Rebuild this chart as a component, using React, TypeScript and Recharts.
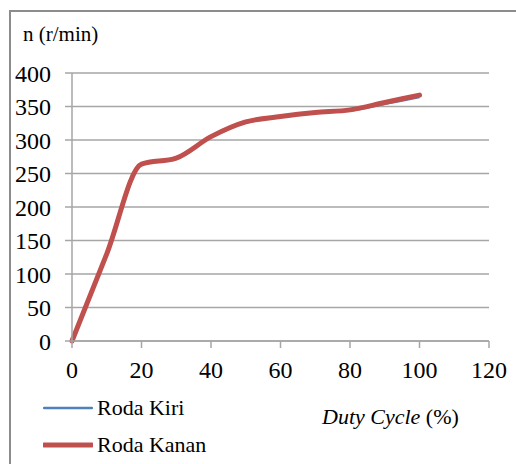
import { LineChart, Line, XAxis, YAxis, CartesianGrid, Legend } from 'recharts'

const dutyCycle = [0, 10, 20, 30, 40, 50, 60, 70, 80, 90, 100]
const rodaKiri = [0, 130, 264, 273, 304, 326, 335, 341, 344, 354, 364]
const rodaKanan = [0, 130, 264, 273, 305, 327, 335, 341, 345, 356, 367]
const xTicks = [0, 20, 40, 60, 80, 100, 120]
const yTicks = [0, 50, 100, 150, 200, 250, 300, 350, 400]

const data = dutyCycle.map((d, i) => ({ duty: d, kiri: rodaKiri[i], kanan: rodaKanan[i] }))

const FONT = '"Liberation Serif", "Times New Roman", serif'
const GRID = '#a6a6a6'

function LegendBox() {
  const rows = [
    { name: 'Roda Kiri', color: '#4f81bd', width: 2.5 },
    { name: 'Roda Kanan', color: '#c0504d', width: 5 },
  ]
  return (
    <div style={{ fontFamily: FONT, fontSize: 22, color: '#000' }}>
      {rows.map((r) => (
        <div key={r.name} style={{ display: 'flex', alignItems: 'center', height: 37 }}>
          <svg width={50} height={10} style={{ marginRight: 4 }}>
            <line x1={1} y1={5} x2={49} y2={5} stroke={r.color} strokeWidth={r.width} strokeLinecap="round" />
          </svg>
          <span>{r.name}</span>
        </div>
      ))}
    </div>
  )
}

export default function App() {
  return (
    <div style={{ position: 'absolute', left: 0, top: 0, width: 516, height: 464, background: '#fff', overflow: 'hidden' }}>
      <div style={{ position: 'absolute', left: 9, top: 10, width: 520, height: 470, borderLeft: '2px solid #8c8c8c', borderTop: '2px solid #8c8c8c' }} />
      <div style={{ position: 'absolute', left: 23, top: 22, fontFamily: FONT, fontSize: 21, color: '#000' }}>
        n (r/min)
      </div>
      <div style={{ position: 'absolute', left: 322, top: 404, fontFamily: FONT, fontSize: 22, color: '#000' }}>
        <i>Duty Cycle</i> (%)
      </div>
      <LineChart
        width={516}
        height={464}
        data={data}
        margin={{ top: 73, right: 27, bottom: 0, left: 0 }}
        style={{ position: 'absolute', left: 0, top: 0, fontFamily: FONT }}
      >
        <CartesianGrid vertical={false} stroke={GRID} strokeWidth={1.5} />
        <XAxis
          dataKey="duty"
          type="number"
          domain={[0, 120]}
          ticks={xTicks}
          stroke={GRID}
          strokeWidth={1.5}
          tickSize={7}
          tickMargin={13}
          fontSize={24}
          fontFamily={FONT}
          tick={{ fill: '#000', fontFamily: FONT, fontSize: 24 }}
          height={123}
        />
        <YAxis
          type="number"
          domain={[0, 400]}
          ticks={yTicks}
          stroke={GRID}
          strokeWidth={1.5}
          tickSize={7}
          tickMargin={14}
          width={72}
          fontSize={24}
          fontFamily={FONT}
          tick={{ fill: '#000', fontFamily: FONT, fontSize: 24 }}
        />
        <Legend
          content={<LegendBox />}
          layout="vertical"
          align="center"
          verticalAlign="middle"
          wrapperStyle={{ position: 'absolute', left: 43, top: 389, width: 200 }}
        />
        <Line
          dataKey="kiri"
          name="Roda Kiri"
          type="monotone"
          stroke="#4f81bd"
          strokeWidth={2.5}
          dot={false}
          isAnimationActive={false}
        />
        <Line
          dataKey="kanan"
          name="Roda Kanan"
          type="monotone"
          stroke="#c0504d"
          strokeWidth={5}
          strokeLinecap="round"
          dot={false}
          isAnimationActive={false}
        />
      </LineChart>
    </div>
  )
}
